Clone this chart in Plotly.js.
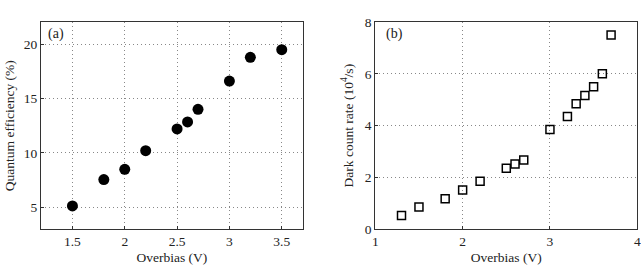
<!DOCTYPE html>
<html><head><meta charset="utf-8">
<script src="https://cdn.plot.ly/plotly-3.0.1.min.js"></script>
<style>html,body{margin:0;padding:0;background:#fff}#c{width:641px;height:268px}</style>
</head><body><div id="c"></div>
<script>
const qeBias = [1.5, 1.8, 2.0, 2.2, 2.5, 2.6, 2.7, 3.0, 3.2, 3.5];
const qeValues = [5.12, 7.54, 8.49, 10.2, 12.2, 12.84, 14.0, 16.6, 18.78, 19.48];
const dcBias = [1.3, 1.5, 1.8, 2.0, 2.2, 2.5, 2.6, 2.7, 3.0, 3.2, 3.3, 3.4, 3.5, 3.6, 3.7];
const dcValues = [0.52, 0.85, 1.17, 1.51, 1.85, 2.35, 2.52, 2.67, 3.85, 4.35, 4.85, 5.17, 5.51, 6.01, 7.51];
const qeXTicks = [1.5, 2, 2.5, 3, 3.5];
const qeYTicks = [5, 10, 15, 20];
const dcXTicks = [1, 2, 3, 4];
const dcYTicks = [0, 2, 4, 6, 8];

const FAM = 'Liberation Serif';
const mk = (s) => ({family: FAM, size: s, color: '#222'});
const ax = (extra) => Object.assign({
  showline: true, linecolor: '#333', linewidth: 1, mirror: true,
  ticks: 'inside', ticklen: 3, tickcolor: '#333',
  showgrid: true, gridcolor: '#888', griddash: '1px,3px', gridwidth: 1,
  zeroline: false, tickfont: mk(13.5)
}, extra);
const traces = [
  {x: qeBias, y: qeValues, type: 'scatter', mode: 'markers', xaxis: 'x', yaxis: 'y',
   marker: {symbol: 'circle', size: 11, color: '#000'}},
  {x: dcBias, y: dcValues, type: 'scatter', mode: 'markers', xaxis: 'x2', yaxis: 'y2',
   marker: {symbol: 'square-open', size: 8, color: '#000', line: {width: 1.5, color: '#000'}}}
];
const layout = {
  width: 641, height: 268, showlegend: false,
  margin: {l: 0, r: 0, t: 0, b: 0},
  paper_bgcolor: '#fff', plot_bgcolor: '#fff', font: mk(13.5),
  xaxis: ax({domain: [0.064, 0.4722], range: [1.2, 3.7], tickvals: qeXTicks, ticktext: qeXTicks.map(String),
    title: {text: 'Overbias (V)', font: mk(13.5), standoff: 4}}),
  yaxis: ax({domain: [0.1455, 0.9168], range: [3, 22], tickvals: qeYTicks,
    title: {text: 'Quantum efficiency (%)', font: mk(13.5), standoff: 6}}),
  xaxis2: ax({anchor: 'y2', domain: [0.5855, 0.9942], range: [1, 4], tickvals: dcXTicks,
    title: {text: 'Overbias (V)', font: mk(13.5), standoff: 4}}),
  yaxis2: ax({anchor: 'x2', domain: [0.1455, 0.9168], range: [0, 8], tickvals: dcYTicks,
    title: {text: 'Dark count rate (10<sup>4</sup>/s)', font: mk(13.5), standoff: 8}}),
  annotations: [
    {text: '(a)', xref: 'x domain', yref: 'y domain', x: 0.02, y: 0.99, xanchor: 'left', yanchor: 'top', showarrow: false, font: mk(14)},
    {text: '(b)', xref: 'x2 domain', yref: 'y2 domain', x: 0.035, y: 0.99, xanchor: 'left', yanchor: 'top', showarrow: false, font: mk(14)}
  ]
};
Plotly.newPlot('c', traces, layout, {displayModeBar: false, staticPlot: true});
</script></body></html>
